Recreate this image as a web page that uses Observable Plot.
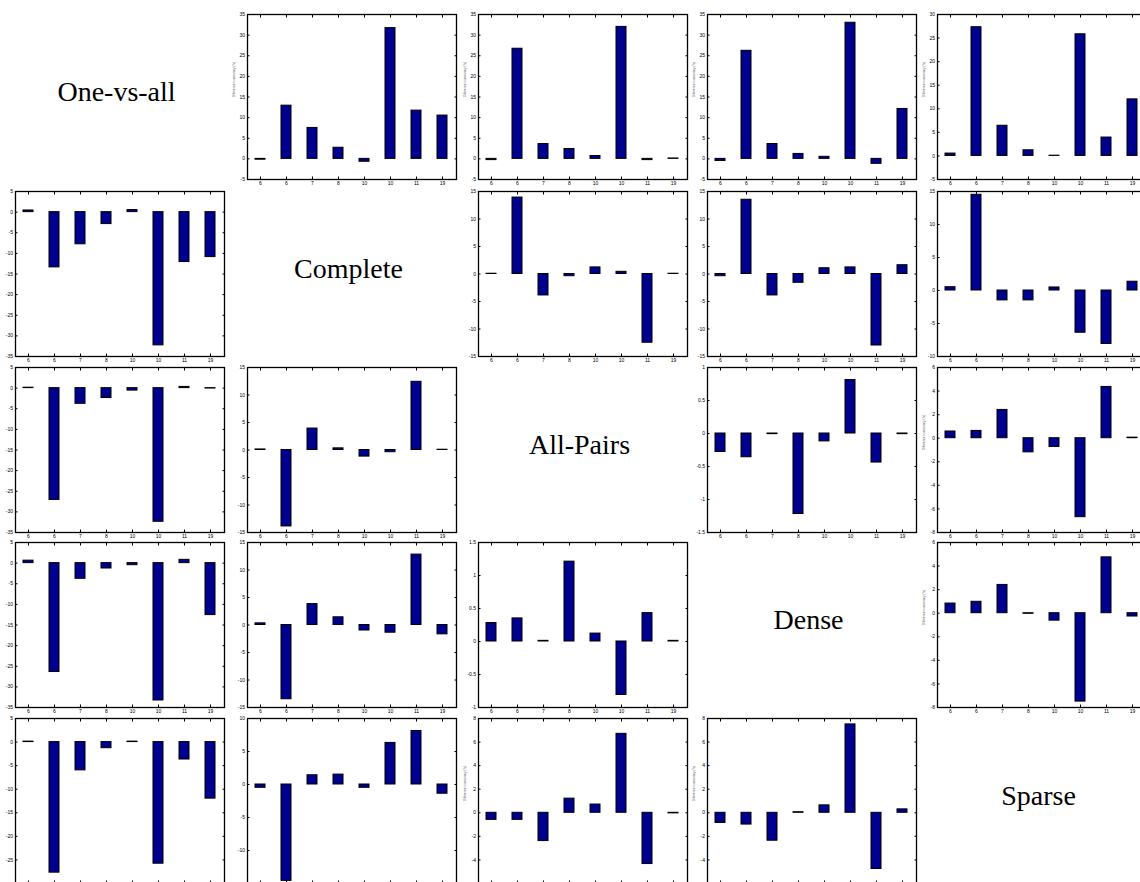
<!DOCTYPE html>
<html><head><meta charset="utf-8">
<script src="https://cdn.jsdelivr.net/npm/d3@7"></script>
<script src="https://cdn.jsdelivr.net/npm/@observablehq/plot@0.6"></script>
<style>
html,body{margin:0;padding:0;background:#fff;}
#fig{position:relative;width:1140px;height:882px;overflow:hidden;background:#fff;}
.panel{position:absolute;}
.panel svg{overflow:visible;display:block;}
#labels{position:absolute;left:0;top:0;pointer-events:none;}
</style></head><body><div id="fig"></div>
<script>
// ---- data ----
const methods = ["One-vs-all", "Complete", "All-Pairs", "Dense", "Sparse"];
const xLabels = ["6", "6", "7", "8", "10", "10", "11", "19"];
const yLabelText = "Difference in accuracy (%)";

// row 1: One-vs-all
const ovaComplete = [-0.2, 12.9, 7.5, 2.7, -0.7, 31.7, 11.7, 10.5];
const ovaAllPairs = [-0.3, 26.7, 3.6, 2.4, 0.7, 32.0, -0.3, 0.1];
const ovaDense    = [-0.5, 26.2, 3.6, 1.2, 0.5, 33.0, -1.2, 12.1];
const ovaSparse   = [0.5, 27.3, 6.4, 1.2, 0.05, 25.8, 3.9, 12.0];
// row 2: Complete
const completeOva      = [0.4, -13.4, -7.8, -2.9, 0.5, -32.3, -12.1, -10.9];
const completeAllPairs = [0.05, 13.9, -3.9, -0.4, 1.2, 0.4, -12.5, 0.05];
const completeDense    = [-0.4, 13.5, -3.9, -1.6, 1.05, 1.2, -13.0, 1.6];
const completeSparse   = [0.5, 14.5, -1.5, -1.5, 0.46, -6.4, -8.1, 1.33];
// row 3: All-Pairs
const allPairsOva      = [0.1, -27.1, -3.8, -2.4, -0.6, -32.4, 0.3, -0.1];
const allPairsComplete = [0.1, -13.9, 3.9, 0.3, -1.2, -0.4, 12.4, 0.05];
const allPairsDense    = [-0.28, -0.36, -0.01, -1.22, -0.12, 0.81, -0.44, -0.01];
const allPairsSparse   = [0.57, 0.62, 2.4, -1.2, -0.74, -6.7, 4.35, 0.05];
// row 4: Dense
const denseOva      = [0.6, -26.4, -3.8, -1.3, -0.5, -33.3, 0.8, -12.6];
const denseComplete = [0.3, -13.5, 3.8, 1.4, -1.0, -1.4, 12.8, -1.7];
const denseAllPairs = [0.28, 0.35, 0.01, 1.21, 0.12, -0.81, 0.43, 0.01];
const denseSparse   = [0.82, 0.97, 2.4, -0.05, -0.63, -7.5, 4.74, -0.28];
// row 5: Sparse
const sparseOva      = [0.1, -27.7, -6.0, -1.3, 0.1, -25.8, -3.7, -12.0];
const sparseComplete = [-0.5, -14.6, 1.4, 1.5, -0.5, 6.3, 8.1, -1.4];
const sparseAllPairs = [-0.6, -0.6, -2.4, 1.2, 0.7, 6.7, -4.35, -0.05];
const sparseDense    = [-0.86, -1.0, -2.37, 0.05, 0.63, 7.5, -4.77, 0.29];

// y-axis ranges [min, max, tick step] per panel
const yAxes = {
  "0,1": [-5, 35, 5], "0,2": [-5, 35, 5], "0,3": [-5, 35, 5], "0,4": [-5, 30, 5],
  "1,0": [-35, 5, 5], "1,2": [-15, 15, 5], "1,3": [-15, 15, 5], "1,4": [-10, 15, 5],
  "2,0": [-35, 5, 5], "2,1": [-15, 15, 5], "2,3": [-1.5, 1, 0.5], "2,4": [-8, 6, 2],
  "3,0": [-35, 5, 5], "3,1": [-15, 15, 5], "3,2": [-1, 1.5, 0.5], "3,4": [-8, 6, 2],
  "4,0": [-30, 5, 5], "4,1": [-15, 10, 5], "4,2": [-6, 8, 2], "4,3": [-6, 8, 2]
};
const grid = [
  [null, ovaComplete, ovaAllPairs, ovaDense, ovaSparse],
  [completeOva, null, completeAllPairs, completeDense, completeSparse],
  [allPairsOva, allPairsComplete, null, allPairsDense, allPairsSparse],
  [denseOva, denseComplete, denseAllPairs, null, denseSparse],
  [sparseOva, sparseComplete, sparseAllPairs, sparseDense, null]
];
const withYLabel = ["0,1", "0,2", "0,3", "0,4", "2,4", "3,4", "4,2", "4,3"];

// ---- layout ----
const colLeft = [15, 247, 478, 707, 937];
const rowTop = [14, 191, 367, 542, 718];
const FW = 209, FH = 165;
const ML = 24, MR = 4, MT = 4, MB = 12;

const fig = document.getElementById("fig");
const lastRow = grid.length - 1;

grid.forEach((rowArr, r) => {
  rowArr.forEach((vals, c) => {
    if (!vals) return;
    const key = r + "," + c;
    const [y0, y1, step] = yAxes[key];
    const ticks = d3.range(y0, y1 + step / 2, step).map(v => +v.toFixed(3));
    // bottom row: the frame runs off the picture's lower edge, so the lowest label is not shown
    const labelTicks = r === lastRow ? ticks.filter(t => t !== y0) : ticks;
    const data = vals.map((v, i) => ({i, v}));
    const marks = [
      Plot.barY(data, {x: "i", y: "v", fill: "#00008F", stroke: "#000", strokeWidth: 1}),
      Plot.axisX({anchor: "bottom", tickSize: -2.5, tickPadding: 4.5,
        tickFormat: r === lastRow ? () => "" : (i => xLabels[i]), label: null, fontSize: 5}),
      Plot.axisX({anchor: "top", tickSize: -2.5, tickFormat: () => "", label: null}),
      Plot.axisY({anchor: "left", ticks: labelTicks, tickSize: -2.5, tickPadding: 5, tickFormat: d => String(d), label: null, fontSize: 5}),
      Plot.axisY({anchor: "right", ticks, tickSize: -2.5, tickFormat: () => "", label: null}),
      Plot.frame({stroke: "#000", strokeWidth: 1.3})
    ];
    if (withYLabel.includes(key)) {
      marks.push(Plot.text([yLabelText], {frameAnchor: "left", text: d => d, rotate: -90, dx: -13, fontSize: 3, fill: "#666"}));
    }
    const plot = Plot.plot({
      width: ML + FW + MR,
      height: MT + FH + MB,
      marginLeft: ML, marginRight: MR, marginTop: MT, marginBottom: MB,
      style: {background: "transparent", fontFamily: "Liberation Sans, Arial, sans-serif", fontSize: "5px", color: "#000", overflow: "visible"},
      x: {type: "band", domain: d3.range(xLabels.length), paddingInner: 0.6, paddingOuter: 0.3, label: null},
      y: {domain: [y0, y1], label: null},
      marks
    });
    const div = document.createElement("div");
    div.className = "panel";
    div.style.left = (colLeft[c] - ML) + "px";
    div.style.top = (rowTop[r] - MT) + "px";
    div.style.width = (ML + FW + MR) + "px";
    div.appendChild(plot);
    fig.appendChild(div);
  });
});

// diagonal method names
const svg = d3.select(fig).append("svg").attr("id", "labels").attr("width", 1140).attr("height", 882);
methods.forEach((m, k) => {
  svg.append("text")
    .attr("x", colLeft[k] + FW / 2 - 3)
    .attr("y", rowTop[k] + FH / 2 + 4)
    .attr("text-anchor", "middle")
    .attr("font-family", "Liberation Serif, Times New Roman, serif")
    .attr("font-size", 28)
    .attr("fill", "#000")
    .text(m);
});
</script>
</body></html>
